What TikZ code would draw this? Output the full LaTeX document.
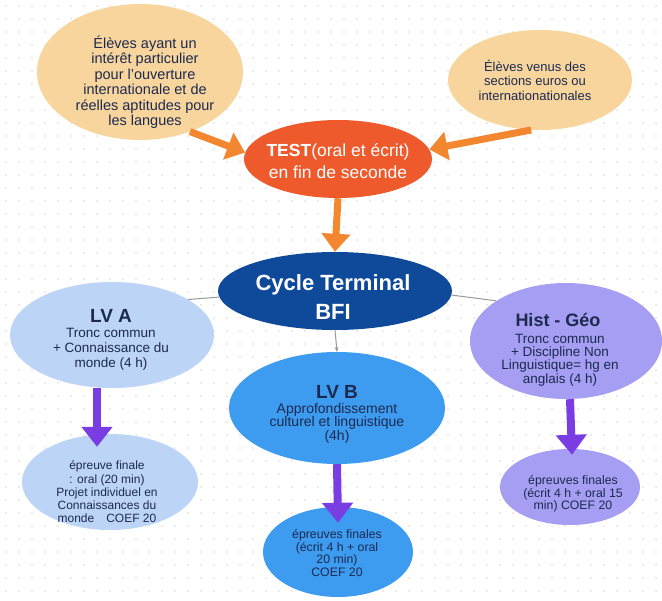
\documentclass[tikz,border=0pt]{standalone}
\usepackage{fontspec}
\setmainfont{Liberation Sans}
\usetikzlibrary{arrows.meta,shapes.geometric}
\definecolor{peach}{HTML}{F8D59D}
\definecolor{testred}{HTML}{EF5A2C}
\definecolor{orarrow}{HTML}{F2872F}
\definecolor{navy}{HTML}{0F4A9A}
\definecolor{lightblue}{HTML}{BCD5F7}
\definecolor{lavender}{HTML}{A59EF2}
\definecolor{midblue}{HTML}{3D9BF0}
\definecolor{purparrow}{HTML}{7A3DE3}
\definecolor{txtnavy}{HTML}{1C2A50}
\definecolor{dotc}{HTML}{DADADA}
\tikzset{
  blob/.style={ellipse, inner sep=0pt, draw=none},
  txt/.style={align=center, inner sep=0pt, text=txtnavy},
  ttl/.style={inner sep=0pt, text=txtnavy, font=\fs{19}{19}\bfseries},
  oarrow/.style={draw=orarrow, line width=7pt, -{Triangle[length=18pt,width=28pt]}},
  parrow/.style={draw=purparrow, line width=8pt, -{Triangle[length=20pt,width=30pt]}},
  glink/.style={draw=gray!80, line width=1pt},
}
\newcommand{\fs}[2]{\fontsize{#1}{#2}\selectfont}
\begin{document}
\begin{tikzpicture}[x=1pt,y=-1pt]
\useasboundingbox (0,0) rectangle (662,601);
\fill[white] (0,0) rectangle (662,601);
\foreach \i in {0,...,50} {\foreach \j in {0,...,46} {\fill[dotc] (\i*13+6,\j*13+6) circle (0.8);}}

% ellipses
\node[blob, fill=peach, minimum width=206pt, minimum height=136pt] (el1) at (140,72) {};
\node[blob, fill=peach, minimum width=184pt, minimum height=100pt] (el2) at (540,80) {};
\node[blob, fill=testred, minimum width=188pt, minimum height=78pt] (test) at (338,159) {};
\node[blob, fill=navy, minimum width=234pt, minimum height=78pt] (cycle) at (335,291) {};
\node[blob, fill=lightblue, minimum width=204pt, minimum height=106pt] (lva) at (112,335) {};
\node[blob, fill=lavender, minimum width=192pt, minimum height=116pt] (hist) at (566,341) {};
\node[blob, fill=midblue, minimum width=216pt, minimum height=112pt] (lvb) at (337,408) {};
\node[blob, fill=lightblue, minimum width=176pt, minimum height=96pt] (fa) at (110,482) {};
\node[blob, fill=lavender, minimum width=140pt, minimum height=76pt] (fh) at (570,487) {};
\node[blob, fill=midblue, minimum width=150pt, minimum height=90pt] (fb) at (338,552) {};

% texts
\node[txt, font=\fs{14.5}{15.5}] (el1t) at (145,82) {Élèves ayant un\\intérêt particulier\\pour l’ouverture\\internationale et de\\réelles aptitudes pour\\les langues};
\node[txt, font=\fs{13}{14.5}] (el2t) at (535,80) {Élèves venus des\\sections euros ou\\internationationales};
\node[txt, text=white, font=\fs{17.5}{22}] (testt) at (338,161) {\textbf{TEST}(oral et écrit)\\en fin de seconde};
\node[txt, text=white, font=\fs{22}{29}\bfseries] (cyclet) at (333,297) {Cycle Terminal\\BFI};

\node[ttl] (lvattl) at (111,316) {LV A};
\node[txt, font=\fs{13.5}{15}] (lvat) at (111,349) {Tronc commun\\+ Connaissance du\\monde (4 h)};
\node[ttl, font=\fs{18}{18}\bfseries] (histttl) at (558,320) {Hist - Géo};
\node[txt, font=\fs{13.5}{13.2}] (histt) at (560,360) {Tronc commun\\+ Discipline Non\\Linguistique= hg en\\anglais (4 h)};
\node[ttl] (lvbttl) at (337,392) {LV B};
\node[txt, font=\fs{14}{13.5}] (lvbt) at (337,423) {Approfondissement\\culturel et linguistique\\(4h)};

\node[txt, font=\fs{12}{13.3}] (fat) at (107,492) {épreuve finale\\: oral (20 min)\\Projet individuel en\\Connaissances du\\monde\quad COEF 20};
\node[txt, font=\fs{12.3}{12.6}] (fht) at (573,494) {épreuves finales\\(écrit 4 h + oral 15\\min) COEF 20};
\node[txt, font=\fs{12.3}{12.4}] (fbt) at (337,553) {épreuves finales\\(écrit 4 h + oral\\20 min)\\COEF 20};

% orange arrows
\draw[oarrow] (el1.-50) -- (test.176);
\draw[oarrow] (el2.-100) -- (test.6);
\draw[oarrow] (test.south) -- (cycle.north);

% grey links
\draw[glink] (lva.25) -- (cycle.183);
\draw[glink] (cycle.-2) -- (hist.150);
\draw[glink, -{Stealth[length=5pt,width=4pt]}] (cycle.south) -- (lvb.north);

% purple arrows
\draw[parrow] ([xshift=-15pt]lva.south) -- ([xshift=-13pt,yshift=-13pt]fa.north);
\draw[parrow] (lvb.south) -- ([yshift=-16pt]fb.north);
\draw[parrow] ([xshift=4pt]hist.south) -- ([xshift=2pt,yshift=-6pt]fh.north);
\end{tikzpicture}
\end{document}
